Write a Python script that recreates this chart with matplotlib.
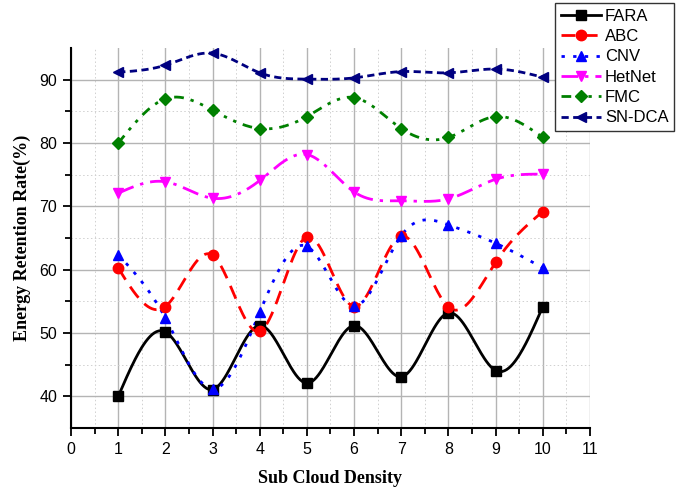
import numpy as np
import matplotlib
matplotlib.use("Agg")
import matplotlib.pyplot as plt

# данные
density = [1, 2, 3, 4, 5, 6, 7, 8, 9, 10]
fara = [40.0, 50.2, 41.1, 51.2, 42.1, 51.2, 43.1, 53.2, 44.1, 54.2]
abc = [60.3, 54.2, 62.3, 50.3, 65.2, 54.2, 65.3, 54.1, 61.2, 69.2]
cnv = [62.4, 52.4, 41.2, 53.3, 63.7, 54.3, 65.4, 67.1, 64.2, 60.3]
hetnet = [72.1, 73.9, 71.3, 74.1, 78.2, 72.3, 70.9, 71.2, 74.3, 75.1]
fmc = [80.0, 87.0, 85.2, 82.3, 84.2, 87.2, 82.3, 80.9, 84.2, 80.9]
sndca = [91.2, 92.3, 94.2, 91.1, 90.1, 90.3, 91.3, 91.1, 91.7, 90.4]
labels = ["FARA", "ABC", "CNV", "HetNet", "FMC", "SN-DCA"]


# Натуральный кубический сплайн для сглаженной линии (как в Origin)
def smooth(x, y, n=400):
    x = np.asarray(x, float)
    y = np.asarray(y, float)
    k = len(x)
    h = np.diff(x)
    A = np.zeros((k, k))
    b = np.zeros(k)
    A[0, 0] = A[-1, -1] = 1
    for i in range(1, k - 1):
        A[i, i - 1] = h[i - 1]
        A[i, i] = 2 * (h[i - 1] + h[i])
        A[i, i + 1] = h[i]
        b[i] = 6 * ((y[i + 1] - y[i]) / h[i] - (y[i] - y[i - 1]) / h[i - 1])
    m = np.linalg.solve(A, b)
    xs = np.linspace(x[0], x[-1], n)
    idx = np.clip(np.searchsorted(x, xs) - 1, 0, k - 2)
    x0, x1 = x[idx], x[idx + 1]
    hh = x1 - x0
    t0, t1 = x1 - xs, xs - x0
    ys = (m[idx] * t0**3 + m[idx + 1] * t1**3) / (6 * hh) \
        + (y[idx] / hh - m[idx] * hh / 6) * t0 \
        + (y[idx + 1] / hh - m[idx + 1] * hh / 6) * t1
    return xs, ys


styles = [
    dict(color="black", marker="s", dashes=()),
    dict(color="red", marker="o", dashes=(5, 3)),
    dict(color="blue", marker="^", dashes=(1.2, 3)),
    dict(color="magenta", marker="v", dashes=(6, 2.5, 1.2, 2.5)),
    dict(color="green", marker="D", dashes=(3.5, 2.5, 1.2, 2.5, 1.2, 2.5)),
    dict(color="navy", marker="<", dashes=(2.6, 1.6)),
]
series = [fara, abc, cnv, hetnet, fmc, sndca]

fig = plt.figure(figsize=(6.92, 4.91), dpi=100)
ax = fig.add_axes([0.1026, 0.128, 0.750, 0.774])

handles = []
for vals, st in zip(series, styles):
    xs, ys = smooth(density, vals)
    ax.plot(xs, ys, color=st["color"], lw=2.0, dashes=st["dashes"], zorder=3)
    msize = 6.5 if st["marker"] == "D" else 7.5
    ax.plot(density, vals, linestyle="none", marker=st["marker"], color=st["color"],
            markersize=msize, zorder=4)
    h, = ax.plot([], [], color=st["color"], lw=2.0, dashes=st["dashes"],
                 marker=st["marker"], markersize=msize)
    handles.append(h)

ax.set_xlim(0, 11)
ax.set_ylim(35, 95)
ax.set_xticks(range(0, 12))
ax.set_yticks([40, 50, 60, 70, 80, 90])
ax.set_xticks(np.arange(0.5, 11, 1), minor=True)
ax.set_yticks([45, 55, 65, 75, 85], minor=True)
ax.grid(True, which="major", color="#b4b4b4", lw=1.0, zorder=0)
ax.grid(True, which="minor", color="#d0d0d0", lw=0.7, linestyle=(0, (1.5, 2.5)), zorder=0)
ax.set_axisbelow(True)

for s in ["top", "right"]:
    ax.spines[s].set_visible(False)
for s in ["left", "bottom"]:
    ax.spines[s].set_linewidth(1.5)

ax.tick_params(which="major", direction="out", length=6, width=1.3,
               labelsize=11.5, pad=4)
ax.tick_params(which="minor", direction="out", length=4, width=1.3)
for lab in ax.get_xticklabels() + ax.get_yticklabels():
    lab.set_fontfamily("Liberation Sans")

ax.set_xlabel("Sub Cloud Density", family="Liberation Serif", fontweight="bold",
              fontsize=13, labelpad=9)
ax.set_ylabel("Energy Retention Rate(%)", family="Liberation Serif", fontweight="bold",
              fontsize=13, labelpad=6)

leg = fig.legend(handles, labels, loc="upper left", bbox_to_anchor=(0.802, 0.994),
                 bbox_transform=fig.transFigure, frameon=True, fancybox=False,
                 edgecolor="#333333", framealpha=1, handlelength=2.4,
                 prop={"family": "Liberation Sans", "size": 12},
                 labelspacing=0.32, borderpad=0.35, handletextpad=0.25,
                 borderaxespad=0)
leg.get_frame().set_linewidth(1.0)
leg.set_zorder(10)

fig.savefig("out.png", dpi=100)
